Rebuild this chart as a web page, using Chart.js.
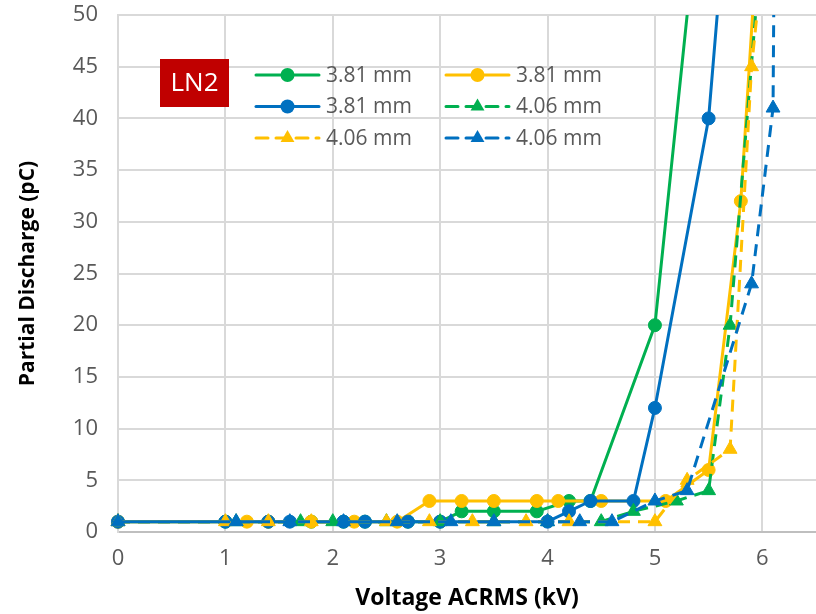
<!DOCTYPE html>
<html>
<head>
<meta charset="utf-8">
<script src="https://cdn.jsdelivr.net/npm/chart.js@4"></script>
<style>
  html, body { margin: 0; padding: 0; background: #fff; }
</style>
</head>
<body>
<canvas id="myChart" width="816" height="614"></canvas>
<script>
// series: voltage (kV) vs partial discharge (pC)
var greenCircX = [0, 1.0, 1.4, 1.8, 2.1, 2.3, 2.7, 3.0, 3.2, 3.5, 3.9, 4.2, 4.4, 5.0, 5.5];
var greenCircY = [1, 1, 1, 1, 1, 1, 1, 1, 2, 2, 2, 3, 3, 20, 70];
var yellowCircX = [0, 1.2, 1.4, 1.8, 2.2, 2.6, 2.9, 3.2, 3.5, 3.9, 4.1, 4.5, 5.1, 5.5, 5.8, 6.0];
var yellowCircY = [1, 1, 1, 1, 1, 1, 3, 3, 3, 3, 3, 3, 3, 6, 32, 65];
var blueCircX = [0, 1.0, 1.4, 1.6, 2.1, 2.3, 2.7, 3.0, 4.0, 4.2, 4.4, 4.8, 5.0, 5.5, 5.7];
var blueCircY = [1, 1, 1, 1, 1, 1, 1, 1, 1, 2, 3, 3, 12, 40, 65];
var greenTriX = [0, 1.1, 1.7, 2.0, 2.5, 3.0, 3.5, 4.0, 4.5, 4.8, 5.2, 5.5, 5.7, 6.0];
var greenTriY = [1, 1, 1, 1, 1, 1, 1, 1, 1, 2, 3, 4, 20, 58];
var yellowTriX = [0, 1.0, 1.4, 1.8, 2.5, 2.9, 3.3, 3.8, 4.2, 5.0, 5.3, 5.7, 5.9, 6.0];
var yellowTriY = [1, 1, 1, 1, 1, 1, 1, 1, 1, 1, 5, 8, 45, 55];
var blueTriX = [0, 1.1, 1.6, 2.1, 2.6, 3.1, 3.5, 4.0, 4.3, 4.6, 5.0, 5.3, 5.9, 6.1, 6.12];
var blueTriY = [1, 1, 1, 1, 1, 1, 1, 1, 1, 1, 3, 4, 24, 41, 70];

var seriesLabels = ['3.81 mm', '3.81 mm', '3.81 mm', '4.06 mm', '4.06 mm', '4.06 mm'];
var xTicks = [0, 1, 2, 3, 4, 5, 6];

var GREEN = '#00B050', YELLOW = '#FFC000', BLUE = '#0070C0';
var FONT = '"Open Sans", "Liberation Sans", sans-serif';

function pts(xs, ys) {
  return xs.map(function (x, i) { return { x: x, y: ys[i] }; });
}

function series(i, xs, ys, color, style, dashed) {
  return {
    label: seriesLabels[i],
    data: pts(xs, ys),
    showLine: true,
    borderColor: color,
    backgroundColor: color,
    borderWidth: 3,
    borderDash: dashed ? [12, 8] : [],
    borderJoinStyle: 'round',
    pointStyle: style,
    pointRadius: style === 'triangle' ? 8 : 6.5,
    pointBorderWidth: 1,
    pointBorderColor: color,
    pointBackgroundColor: color,
    tension: 0,
    order: 5 - i,
    clip: { left: 12, bottom: 12, top: 0, right: 0 }
  };
}

function drawMarker(c, style, x, y, color) {
  c.fillStyle = color;
  c.beginPath();
  if (style === 'triangle') {
    var r = 8;
    c.moveTo(x, y - r);
    c.lineTo(x + r * Math.sqrt(3) / 2, y + r / 2);
    c.lineTo(x - r * Math.sqrt(3) / 2, y + r / 2);
    c.closePath();
  } else {
    c.arc(x, y, 7, 0, Math.PI * 2);
  }
  c.fill();
}

// legend + LN2 label drawn inside the plot area
var insideLegend = {
  id: 'insideLegend',
  afterDraw: function (chart) {
    var c = chart.ctx;
    c.save();
    c.fillStyle = '#C00000';
    c.fillRect(160, 59, 69, 48);
    c.fillStyle = '#ffffff';
    c.font = '26px ' + FONT;
    c.textAlign = 'center';
    c.textBaseline = 'middle';
    c.fillText('LN2', 194.5, 84);

    chart.data.datasets.forEach(function (ds, i) {
      var col = i % 2, row = Math.floor(i / 2);
      var x0 = col ? 446 : 256;
      var y = 75 + row * 31.5;
      c.strokeStyle = ds.borderColor;
      c.lineWidth = 3;
      c.lineCap = 'round';
      c.setLineDash(ds.borderDash);
      c.beginPath();
      c.moveTo(x0, y);
      c.lineTo(x0 + 63, y);
      c.stroke();
      c.setLineDash([]);
      drawMarker(c, ds.pointStyle, x0 + 31.5, y, ds.borderColor);
      c.fillStyle = '#595959';
      c.font = '21px ' + FONT;
      c.textAlign = 'left';
      c.textBaseline = 'middle';
      c.fillText(ds.label, x0 + 70, y + 1);
    });
    c.restore();
  }
};

var ctx = document.getElementById('myChart').getContext('2d');
var myChart = new Chart(ctx, {
  type: 'scatter',
  data: {
    datasets: [
      series(0, greenCircX, greenCircY, GREEN, 'circle', false),
      series(1, yellowCircX, yellowCircY, YELLOW, 'circle', false),
      series(2, blueCircX, blueCircY, BLUE, 'circle', false),
      series(3, greenTriX, greenTriY, GREEN, 'triangle', true),
      series(4, yellowTriX, yellowTriY, YELLOW, 'triangle', true),
      series(5, blueTriX, blueTriY, BLUE, 'triangle', true)
    ]
  },
  options: {
    responsive: false,
    animation: false,
    layout: { autoPadding: false, padding: { top: 15, right: 0, left: 0, bottom: 0 } },
    plugins: {
      legend: { display: false },
      tooltip: { enabled: false }
    },
    scales: {
      x: {
        type: 'linear',
        min: 0,
        max: 6.5,
        afterBuildTicks: function (axis) {
          axis.ticks = xTicks.map(function (v) { return { value: v }; });
        },
        afterFit: function (s) {
          s.height = 82;
          s.paddingLeft = 0;
          s.paddingRight = 0;
        },
        grid: { color: '#d9d9d9', lineWidth: 2, drawTicks: false },
        border: { color: '#bfbfbf', width: 2 },
        ticks: { color: '#595959', font: { family: FONT, size: 22 }, padding: 14 },
        title: {
          display: true,
          text: 'Voltage ACRMS (kV)',
          color: '#000000',
          font: { family: FONT, size: 23, weight: 'bold' },
          padding: { top: 0, bottom: 2 }
        }
      },
      y: {
        min: 0,
        max: 50,
        afterFit: function (s) {
          s.width = 118;
          s.paddingTop = 0;
          s.paddingBottom = 0;
        },
        grid: { color: '#d9d9d9', lineWidth: 2, drawTicks: false },
        border: { color: '#d9d9d9', width: 2 },
        ticks: { stepSize: 5, color: '#595959', font: { family: FONT, size: 22 }, padding: 20 },
        title: {
          display: true,
          text: 'Partial Discharge (pC)',
          color: '#000000',
          font: { family: FONT, size: 21, weight: 'bold' },
          padding: { top: 15, bottom: 0 }
        }
      }
    }
  },
  plugins: [insideLegend]
});
</script>
</body>
</html>
